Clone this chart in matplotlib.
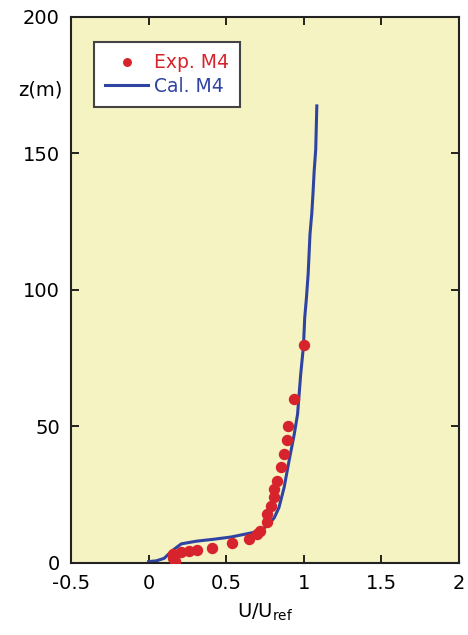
import matplotlib

matplotlib.use("Agg")

import matplotlib.pyplot as plt

# measured profile (dots)
exp_u = [1.00, 0.94, 0.90, 0.89, 0.87, 0.85, 0.83, 0.81, 0.81, 0.79, 0.76, 0.76,
         0.72, 0.70, 0.65, 0.54, 0.41, 0.31, 0.26, 0.21, 0.16, 0.16, 0.17]
exp_z = [80, 60, 50, 45, 40, 35, 30, 27, 24, 21, 18, 15,
         11.7, 10.5, 8.7, 7.4, 5.4, 4.6, 4.4, 4.0, 3.2, 1.7, 0.7]

# computed profile (line)
cal_u = [0.0, 0.05, 0.10, 0.15, 0.21, 0.31, 0.42, 0.53, 0.66, 0.72, 0.776, 0.81,
         0.84, 0.873, 0.905, 0.938, 0.96, 0.98, 0.998, 1.006, 1.017, 1.028,
         1.034, 1.04, 1.052, 1.06, 1.067, 1.077, 1.084]
cal_z = [0.5, 0.8, 1.7, 4.4, 7.0, 8.0, 8.7, 9.5, 11.0, 11.7, 14.2, 16.6,
         20.3, 27.6, 37.4, 47, 54.5, 69, 79.5, 89.8, 97, 105.7,
         113, 120.4, 128.3, 136, 143.6, 151.5, 167.4]

x_ticks = [-0.5, 0, 0.5, 1, 1.5, 2]
x_tick_labels = ["-0.5", "0", "0.5", "1", "1.5", "2"]
y_ticks = [0, 50, 100, 150, 200]

RED = "#d7232b"
BLUE = "#2f43a3"
BG = "#f5f3c2"

fig = plt.figure(figsize=(4.68, 6.35), dpi=100)
ax = fig.add_axes([0.1517, 0.1134, 0.829, 0.86])
ax.set_facecolor(BG)

ax.plot(cal_u, cal_z, color=BLUE, lw=2.2, label="Cal. M4", zorder=2)
ax.plot(exp_u, exp_z, ls="none", marker="o", ms=7.2, color=RED,
        mec=RED, label="Exp. M4", zorder=3)

ax.set_xlim(-0.5, 2)
ax.set_ylim(0, 200)
ax.set_xticks(x_ticks)
ax.set_xticklabels(x_tick_labels)
ax.set_yticks(y_ticks)
ax.tick_params(direction="in", length=6, width=1.2, top=True, right=True,
               labelsize=14, pad=8)
for sp in ax.spines.values():
    sp.set_linewidth(1.5)
    sp.set_color("#222222")

ax.set_xlabel(r"U/U$_{\mathrm{ref}}$", fontsize=14, labelpad=6)
fig.text(0.038, 0.858, "z(m)", fontsize=14, ha="left", va="center")

handles, labels = ax.get_legend_handles_labels()
leg = ax.legend(handles[::-1], labels[::-1], loc="upper left",
                bbox_to_anchor=(0.059, 0.954), borderaxespad=0,
                fontsize=13.5, frameon=True, fancybox=False,
                handlelength=2.3, handletextpad=0.3, labelspacing=0.25,
                borderpad=0.6, markerscale=0.75)
leg.get_frame().set_edgecolor("#444444")
leg.get_frame().set_linewidth(1.5)
leg.get_frame().set_facecolor("white")
leg.get_frame().set_alpha(1)
for txt, col in zip(leg.get_texts(), [RED, BLUE]):
    txt.set_color(col)

fig.savefig("out.png", dpi=100)
